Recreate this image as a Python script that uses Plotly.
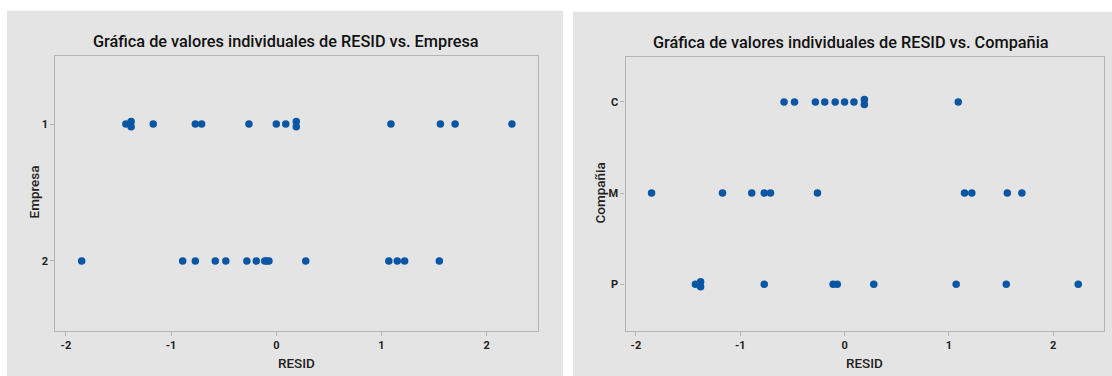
import plotly.graph_objects as go

# Residuals from the fitted model, with the two grouping factors
resid = [-1.43, -1.38, -1.38, -1.17, -0.77, -0.71, -0.26, 0.00, 0.09, 0.19,
         0.19, 1.09, 1.56, 1.70, 2.24,
         -1.85, -0.89, -0.77, -0.58, -0.48, -0.28, -0.19, -0.11, -0.09, -0.07,
         0.28, 1.07, 1.15, 1.22, 1.55]
empresa = ["1"] * 15 + ["2"] * 15
compania = ["P", "P", "P", "M", "M", "M", "M", "C", "C", "C",
            "C", "C", "M", "M", "P",
            "M", "M", "P", "C", "C", "C", "C", "P", "C", "P",
            "P", "P", "M", "M", "P"]

empresa_levels = ["1", "2"]
compania_levels = ["C", "M", "P"]
x_ticks = [-2, -1, 0, 1, 2]
x_tick_labels = ["-2", "-1", "0", "1", "2"]

W, H = 1112, 376
BLUE = "#0b56a4"
PANEL = "#e4e4e4"
FRAME = "#b4b4b4"
TXT = "#222222"


def px_x(p):
    return p / W


def px_y(p):
    return 1 - p / H


def stacked_positions(values, groups, levels, spread):
    """Category index per point; repeated values in a group are nudged apart."""
    counts = {}
    for v, g in zip(values, groups):
        key = (g, round(v, 2))
        counts[key] = counts.get(key, 0) + 1
    out, used = [], {}
    for v, g in zip(values, groups):
        key = (g, round(v, 2))
        n = counts[key]
        i = used.get(key, 0)
        used[key] = i + 1
        out.append(levels.index(g) + (i - (n - 1) / 2) * spread)
    return out


y_emp = stacked_positions(resid, empresa, empresa_levels, 0.037)
y_com = stacked_positions(resid, compania, compania_levels, 0.055)

fig = go.Figure()
fig.add_trace(go.Scatter(x=resid, y=y_emp, mode="markers", xaxis="x", yaxis="y",
                         marker=dict(color=BLUE, size=7.5), showlegend=False,
                         hoverinfo="x"))
fig.add_trace(go.Scatter(x=resid, y=y_com, mode="markers", xaxis="x2", yaxis="y2",
                         marker=dict(color=BLUE, size=7.5), showlegend=False,
                         hoverinfo="x"))

tick_font = dict(family="Roboto", size=11, color=TXT, weight="bold")
common_x = dict(range=[-2.1, 2.49], tickvals=x_ticks, ticktext=x_tick_labels,
                showline=True, mirror=True, linecolor=FRAME, linewidth=1.2,
                ticks="outside", ticklen=4, tickcolor=FRAME, showgrid=False,
                zeroline=False, tickfont=tick_font)
common_y = dict(showline=True, mirror=True, linecolor=FRAME, linewidth=1.2,
                ticks="outside", ticklen=4, tickcolor=FRAME, showgrid=False,
                zeroline=False, tickfont=tick_font)

fig.update_layout(
    width=W, height=H,
    margin=dict(l=0, r=0, t=0, b=0),
    paper_bgcolor="white", plot_bgcolor="white",
    xaxis=dict(domain=[px_x(55.4), px_x(538.2)], anchor="y", **common_x),
    yaxis=dict(domain=[px_y(330.7), px_y(55.7)], anchor="x",
               range=[1.51, -0.5], tickvals=[0, 1], ticktext=empresa_levels,
               **common_y),
    xaxis2=dict(domain=[px_x(625.5), px_x(1104.3)], anchor="y2", **common_x),
    yaxis2=dict(domain=[px_y(330.7), px_y(57.3)], anchor="x2",
                range=[2.51, -0.49], tickvals=[0, 1, 2], ticktext=compania_levels,
                **common_y),
    shapes=[
        dict(type="rect", xref="paper", yref="paper", layer="below",
             x0=px_x(7), x1=px_x(563), y0=0, y1=px_y(10.7),
             fillcolor=PANEL, line=dict(width=0)),
        dict(type="rect", xref="paper", yref="paper", layer="below",
             x0=px_x(573), x1=1, y0=0, y1=px_y(11.7),
             fillcolor=PANEL, line=dict(width=0)),
    ],
)

title_font = dict(family="Roboto", size=16.3, color="#111111", weight=500)
label_font = dict(family="Roboto", size=13.5, color=TXT, weight=500)
ann = [
    dict(text="Gráfica de valores individuales de RESID vs. Empresa",
         x=px_x(285.7), y=px_y(41.5), font=title_font),
    dict(text="Gráfica de valores individuales de RESID vs. Compañia",
         x=px_x(851.4), y=px_y(42.7), font=title_font),
    dict(text="RESID", x=px_x(296.8), y=px_y(362.7), font=label_font),
    dict(text="RESID", x=px_x(864.9), y=px_y(362.7), font=label_font),
    dict(text="Empresa", x=px_x(33), y=px_y(192.5), font=label_font, textangle=-90),
    dict(text="Compañia", x=px_x(599), y=px_y(193.5), font=label_font, textangle=-90),
]
for a in ann:
    fig.add_annotation(xref="paper", yref="paper", showarrow=False,
                       xanchor="center", yanchor="middle", **a)

fig.write_html("out.html")
